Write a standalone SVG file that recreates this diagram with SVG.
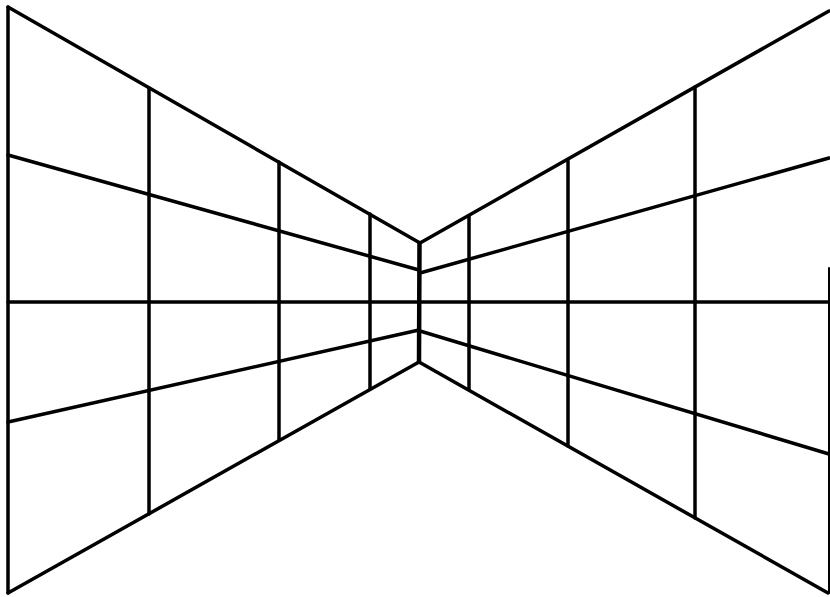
<svg xmlns="http://www.w3.org/2000/svg" width="830" height="597" viewBox="0 0 830 597">
<style>
line{stroke:#000;stroke-width:3.5;stroke-linecap:round;fill:none}
.thin{stroke-width:2}
.corner{stroke-width:4.5}
</style>
<rect width="830" height="597" fill="#fff"/>
<g id="left-wall">
<line x1="8" y1="7" x2="8" y2="593"/>
<line x1="8" y1="7" x2="420" y2="243"/>
<line x1="8" y1="593" x2="419" y2="362"/>
<line x1="8" y1="155" x2="419" y2="270"/>
<line x1="8" y1="422" x2="419" y2="330"/>
<line x1="149" y1="88" x2="149" y2="514"/>
<line x1="279" y1="162" x2="279" y2="440"/>
<line x1="370" y1="214" x2="370" y2="389"/>
</g>
<g id="right-wall">
<line x1="420" y1="243" x2="829" y2="11"/>
<line x1="419" y1="362" x2="828" y2="593"/>
<line x1="420" y1="273" x2="829" y2="158"/>
<line x1="420" y1="331" x2="829" y2="454"/>
<line x1="469" y1="216" x2="469" y2="389"/>
<line x1="568" y1="161" x2="568" y2="446"/>
<line x1="695" y1="87" x2="695" y2="518"/>
<line class="thin" x1="829" y1="268" x2="829" y2="593"/>
</g>
<g id="connectors">
<line x1="8" y1="302" x2="829" y2="302"/>
<line class="corner" x1="419.5" y1="243" x2="419" y2="362"/>
</g>
</svg>
